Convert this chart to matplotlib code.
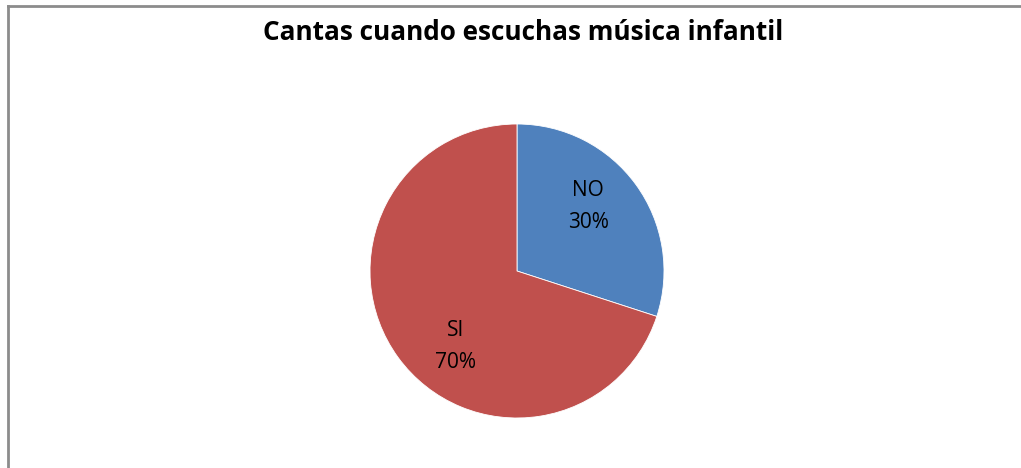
import matplotlib
matplotlib.use("Agg")
import matplotlib.pyplot as plt
from matplotlib.lines import Line2D

title = "Cantas cuando escuchas música infantil"
categories = ["NO", "SI"]
values = [30, 70]
colors = ["#4F81BD", "#C0504D"]

W, H = 1021, 468
fig = plt.figure(figsize=(W / 100, H / 100), dpi=100)
fig.patch.set_facecolor("white")

# chart frame (left and top edges visible)
fig.add_artist(Line2D([7.5 / W, 7.5 / W], [0, 1 - 6 / H], transform=fig.transFigure,
                      color="#8c8c8c", lw=2))
fig.add_artist(Line2D([7.5 / W, 1], [1 - 6 / H, 1 - 6 / H], transform=fig.transFigure,
                      color="#8c8c8c", lw=2))

cx, cy, r = 517, H - 271, 147
ax = fig.add_axes([(cx - r) / W, (cy - r) / H, 2 * r / W, 2 * r / H])
wedges, _ = ax.pie(values, colors=colors, startangle=90, counterclock=False,
                   radius=1.0, wedgeprops=dict(linewidth=0.6, edgecolor="white"))
ax.set_xlim(-1, 1)
ax.set_ylim(-1, 1)
ax.set_aspect("equal")
ax.axis("off")

total = sum(values)
label_pos = [(0.485, 0.44), (-0.42, -0.515)]
for cat, v, (lx, ly) in zip(categories, values, label_pos):
    ax.text(lx, ly, f"{cat}\n{round(100 * v / total)}%", ha="center", va="center",
            fontsize=15, family=["Open Sans", "DejaVu Sans"], linespacing=1.7,
            color="black")

fig.text(523 / W, 1 - 32 / H, title, ha="center", va="center", fontsize=18.8,
         fontweight="bold", family=["Open Sans", "DejaVu Sans"])

fig.savefig("out.png", dpi=100, facecolor="white")
